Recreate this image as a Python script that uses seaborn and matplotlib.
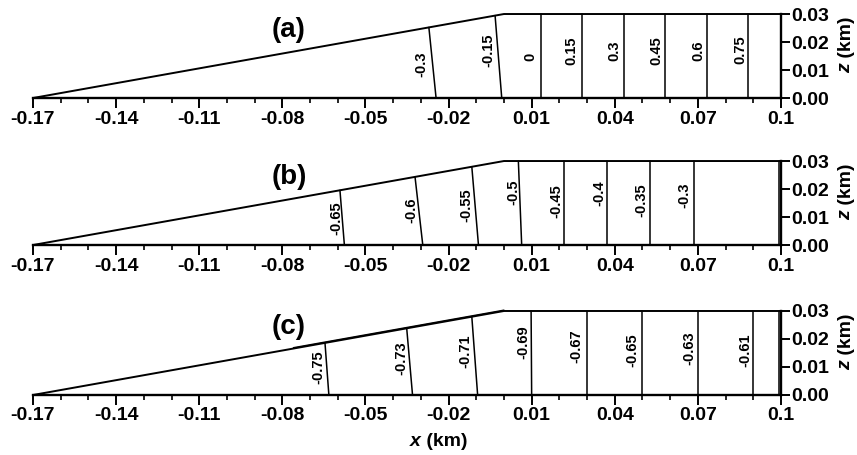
import numpy as np
import pandas as pd
import matplotlib
matplotlib.use("Agg")
import matplotlib.pyplot as plt
import seaborn as sns

# ---------------- data ----------------
domain_x = [-0.17, 0.0, 0.1]
domain_z = [0.0, 0.03, 0.03]

xtick_vals = [-0.17, -0.14, -0.11, -0.08, -0.05, -0.02, 0.01, 0.04, 0.07, 0.1]
xtick_labels = ["-0.17", "-0.14", "-0.11", "-0.08", "-0.05", "-0.02", "0.01", "0.04", "0.07", "0.1"]
xminor_vals = [-0.17 + 0.01 * i for i in range(28)]
ztick_vals = [0.0, 0.01, 0.02, 0.03]
ztick_labels = ["0.00", "0.01", "0.02", "0.03"]

panel_names = ["(a)", "(b)", "(c)"]

# contour levels: x at top edge and at bottom
levels_a = ["-0.3", "-0.15", "0", "0.15", "0.3", "0.45", "0.6", "0.75"]
top_a = [-0.0271, -0.0032, 0.0132, 0.0283, 0.0433, 0.0581, 0.0732, 0.0882]
bot_a = [-0.0245, -0.0008, 0.0132, 0.0283, 0.0433, 0.0581, 0.0732, 0.0882]
labx_a = [-0.0297, -0.0058, 0.0094, 0.0244, 0.0400, 0.0551, 0.0701, 0.0852]
labz_a = [0.0120, 0.0170, 0.0146, 0.0170, 0.0170, 0.0170, 0.0168, 0.0172]

levels_b = ["-0.65", "-0.6", "-0.55", "-0.5", "-0.45", "-0.4", "-0.35", "-0.3", ""]
top_b = [-0.0592, -0.0321, -0.0116, 0.0052, 0.0217, 0.0373, 0.0527, 0.0686, 0.0993]
bot_b = [-0.0576, -0.0293, -0.0092, 0.0064, 0.0217, 0.0373, 0.0527, 0.0686, 0.0993]
labx_b = [-0.0604, -0.0333, -0.0135, 0.0034, 0.0190, 0.0343, 0.0497, 0.0653, 0.0]
labz_b = [0.0095, 0.0125, 0.0143, 0.0190, 0.0155, 0.0186, 0.0160, 0.0179, 0.0]

levels_c = ["-0.75", "-0.73", "-0.71", "-0.69", "-0.67", "-0.65", "-0.63", "-0.61", ""]
top_c = [-0.0646, -0.0351, -0.0116, 0.0098, 0.0299, 0.0499, 0.0700, 0.0898, 0.0993]
bot_c = [-0.0632, -0.0330, -0.0095, 0.0100, 0.0299, 0.0499, 0.0700, 0.0898, 0.0993]
labx_c = [-0.0670, -0.0369, -0.0141, 0.0070, 0.0262, 0.0463, 0.0671, 0.0870, 0.0]
labz_c = [0.0101, 0.0131, 0.0155, 0.0190, 0.0173, 0.0161, 0.0167, 0.0161, 0.0]

extra_edge_c = [-0.076, 0.0]   # doubled wedge edge in panel (c)

panels = [
    (levels_a, top_a, bot_a, labx_a, labz_a),
    (levels_b, top_b, bot_b, labx_b, labz_b),
    (levels_c, top_c, bot_c, labx_c, labz_c),
]

# ---------------- style ----------------
sns.set_theme(style="white")
plt.rcParams["font.family"] = ["Liberation Sans", "DejaVu Sans"]
plt.rcParams["font.weight"] = "bold"
plt.rcParams["text.color"] = "black"
plt.rcParams["xtick.color"] = "black"
plt.rcParams["ytick.color"] = "black"
plt.rcParams["axes.edgecolor"] = "black"

fig = plt.figure(figsize=(8.57, 4.55), dpi=100)
bottoms = [0.7846, 0.4615, 0.1319]
L, W, H = 0.0385, 0.8728, 0.1846

for i, (levs, tops, bots, lx, lz) in enumerate(panels):
    ax = fig.add_axes([L, bottoms[i], W, H])
    ax.set_xlim(-0.17, 0.1)
    ax.set_ylim(0, 0.03)

    rows = []
    for k, (lv, xt, xb) in enumerate(zip(levs, tops, bots)):
        zt = float(np.interp(xt, domain_x, domain_z))
        rows.append({"x": xt, "z": zt, "level": k})
        rows.append({"x": xb, "z": 0.0, "level": k})
    df = pd.DataFrame(rows)
    sns.lineplot(data=df, x="x", y="z", units="level", estimator=None, sort=False,
                 color="black", linewidth=1.1, ax=ax, legend=False)

    bdf = pd.DataFrame({"x": domain_x, "z": domain_z})
    sns.lineplot(data=bdf, x="x", y="z", sort=False, estimator=None, color="black",
                 linewidth=1.4, ax=ax, legend=False)
    if i == 2:
        ex = pd.DataFrame({"x": extra_edge_c,
                           "z": np.interp(extra_edge_c, domain_x, domain_z) + 0.0003})
        sns.lineplot(data=ex, x="x", y="z", sort=False, estimator=None, color="black",
                     linewidth=1.0, ax=ax, legend=False)
    for ln in ax.lines:
        ln.set_clip_on(False)

    for lv, xx, zz in zip(levs, lx, lz):
        if lv:
            ax.text(xx, zz, lv, rotation=90, ha="center", va="center",
                    fontsize=10.5, fontweight="bold")

    ax.text(-0.0776, 0.0242, panel_names[i], ha="center", va="center",
            fontsize=20, fontweight="bold", clip_on=False)

    ax.spines["left"].set_visible(False)
    ax.spines["top"].set_visible(False)
    ax.spines["right"].set_linewidth(1.7)
    ax.spines["bottom"].set_linewidth(1.7)

    ax.set_xticks(xtick_vals)
    ax.set_xticklabels(xtick_labels, fontsize=14, fontweight="bold")
    ax.set_xticks(xminor_vals, minor=True)
    ax.tick_params(axis="x", which="major", direction="out", length=7, width=1.4,
                   pad=2, bottom=True)
    ax.tick_params(axis="x", which="minor", direction="out", length=3.5, width=1.2,
                   bottom=True)
    ax.yaxis.tick_right()
    ax.set_yticks(ztick_vals)
    ax.set_yticklabels(ztick_labels, fontsize=14, fontweight="bold")
    ax.tick_params(axis="y", which="major", direction="out", length=6.5, width=1.4,
                   pad=1, right=True, left=False)
    ax.set_xlabel("")
    ax.set_ylabel("")

    ax.text(1.087, 0.417, "z", transform=ax.transAxes, rotation=90, ha="center",
            va="top", fontsize=14, fontweight="bold", fontstyle="italic")
    ax.text(1.087, 0.417, " (km)", transform=ax.transAxes, rotation=90, ha="center",
            va="bottom", fontsize=14, fontweight="bold")

fig.text(0.4913, 0.030, "x", ha="right", va="center", fontsize=14,
         fontweight="bold", fontstyle="italic")
fig.text(0.4913, 0.030, " (km)", ha="left", va="center", fontsize=14,
         fontweight="bold")

fig.savefig("out.png", dpi=100)
